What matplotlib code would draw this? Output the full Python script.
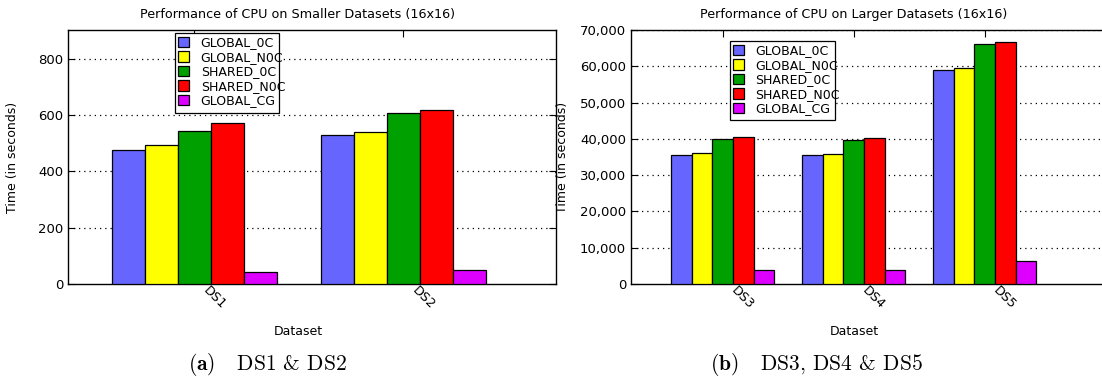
import matplotlib
matplotlib.use("Agg")
import matplotlib.pyplot as plt
import numpy as np
from matplotlib.patches import Rectangle
from matplotlib.ticker import FuncFormatter
from matplotlib.transforms import offset_copy

SERIES = ["GLOBAL_0C", "GLOBAL_N0C", "SHARED_0C", "SHARED_N0C", "GLOBAL_CG"]
COLORS = ["#6666ff", "#ffff00", "#00a000", "#ff0000", "#dd00ff"]

SMALL_SETS = ["DS1", "DS2"]
SMALL_TIMES = {
    "GLOBAL_0C": [476, 530],
    "GLOBAL_N0C": [493, 540],
    "SHARED_0C": [543, 608],
    "SHARED_N0C": [571, 618],
    "GLOBAL_CG": [44, 50],
}

LARGE_SETS = ["DS3", "DS4", "DS5"]
LARGE_TIMES = {
    "GLOBAL_0C": [35470, 35470, 58880],
    "GLOBAL_N0C": [36000, 35900, 59620],
    "SHARED_0C": [39870, 39600, 66040],
    "SHARED_N0C": [40420, 40140, 66780],
    "GLOBAL_CG": [3770, 3770, 6240],
}

plt.rcParams["font.family"] = ["DejaVu Sans"]
plt.rcParams["mathtext.fontset"] = "cm"

W, H = 1102, 383
fig = plt.figure(figsize=(W / 100, H / 100), dpi=100)


def px_axes(x0, x1, y0, y1):
    return fig.add_axes([x0 / W, 1 - y1 / H, (x1 - x0) / W, (y1 - y0) / H])


def draw_panel(ax, sets, times, ylim, yticks, xlim, title, label_x, legend_box, fmt=None):
    x = np.arange(len(sets))
    bw = 0.158
    for i, name in enumerate(SERIES):
        ax.bar(x + (i - 2) * bw, times[name], width=bw, color=COLORS[i],
               edgecolor="black", linewidth=0.9, label=name, zorder=3)
    ax.set_xlim(*xlim)
    ax.set_ylim(*ylim)
    ax.set_yticks(yticks)
    if fmt is not None:
        ax.yaxis.set_major_formatter(FuncFormatter(fmt))
    ax.set_xticks(x)
    ax.set_xticklabels([])
    # slanted category names hung just below each tick
    lab_tr = offset_copy(ax.get_xaxis_transform(), fig=fig, x=6, y=-9, units="dots")
    for xi, name in zip(x, sets):
        ax.text(xi, 0, name, transform=lab_tr, rotation=-45, ha="left",
                va="bottom", rotation_mode="anchor", fontsize=9.3)
    ax.tick_params(axis="both", direction="in", labelsize=9.5, length=5,
                   top=True, right=True, width=0.8)
    for yv in yticks[1:]:
        ax.axhline(yv, color="black", linestyle=(0, (1, 3.2)), linewidth=0.9, zorder=1)
    for s in ax.spines.values():
        s.set_linewidth(1.0)
    ax.text(label_x, 1.06, title, transform=ax.transAxes, ha="center",
            va="center", fontsize=9.2)
    ax.set_xlabel("Dataset", fontsize=9)
    ax.xaxis.set_label_coords(label_x, -0.16)
    ax.set_ylabel("Time (in seconds)", fontsize=9)

    # legend box drawn by hand so the labels can run past its right edge
    bx, by, bwid, bht = legend_box
    ax.add_patch(Rectangle((bx, by - bht), bwid, bht, transform=ax.transAxes,
                           facecolor="white", edgecolor="black", linewidth=0.9,
                           zorder=4))
    leg = ax.legend(loc="upper left", bbox_to_anchor=(bx, by), fontsize=9,
                    frameon=False, handlelength=0.9, handleheight=0.9,
                    handletextpad=0.9, labelspacing=0.12, borderpad=0.25,
                    borderaxespad=0)
    for h in leg.legend_handles:
        h.set_linewidth(0.9)
    leg.set_zorder(5)


ax1 = px_axes(68, 556, 30, 284)
draw_panel(ax1, SMALL_SETS, SMALL_TIMES, (0, 902), [0, 200, 400, 600, 800],
           (-0.603, 1.73), "Performance of CPU on Smaller Datasets (16x16)",
           0.471, ((175 - 68) / 488, (284 - 33) / 254, 104 / 488, 80 / 254))
ax1.yaxis.set_label_coords(-0.100, 0.5)

# the right-hand panel runs off the edge of the figure
ax2 = px_axes(631, 1140, 30, 284)
draw_panel(ax2, LARGE_SETS, LARGE_TIMES, (0, 70000),
           [0, 10000, 20000, 30000, 40000, 50000, 60000, 70000],
           (-0.70, 3.185), "Performance of CPU on Larger Datasets (16x16)",
           0.438, ((730 - 631) / 509, (284 - 41) / 254, 105 / 509, 79 / 254),
           fmt=lambda v, p: f"{int(v):,}")
ax2.spines["right"].set_visible(False)
ax2.tick_params(right=False)
ax2.yaxis.set_label_coords(-0.122, 0.5)

fig.text(268 / W, 1 - 365 / H, r"$\mathbf{(a)}$   DS1 & DS2", ha="center", va="center",
         fontsize=15.5, family="cmr10")
fig.text(816 / W, 1 - 365 / H, r"$\mathbf{(b)}$   DS3, DS4 & DS5", ha="center", va="center",
         fontsize=15.5, family="cmr10")

fig.savefig("out.png", dpi=100)
